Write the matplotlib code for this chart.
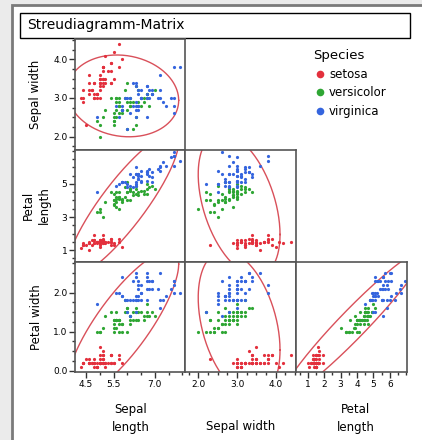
import numpy as np
import matplotlib
matplotlib.use("Agg")
import matplotlib.pyplot as plt
from matplotlib.patches import Rectangle
from matplotlib.ticker import MultipleLocator, FixedLocator, FixedFormatter

# ------------------------
# Iris data (Fisher)
# ------------------------
sepal_length = [
    5.1, 4.9, 4.7, 4.6, 5.0, 5.4, 4.6, 5.0, 4.4, 4.9, 5.4, 4.8, 4.8, 4.3, 5.8, 5.7, 5.4, 5.1, 5.7, 5.1,
    5.4, 5.1, 4.6, 5.1, 4.8, 5.0, 5.0, 5.2, 5.2, 4.7, 4.8, 5.4, 5.2, 5.5, 4.9, 5.0, 5.5, 4.9, 4.4, 5.1,
    5.0, 4.5, 4.4, 5.0, 5.1, 4.8, 5.1, 4.6, 5.3, 5.0,
    7.0, 6.4, 6.9, 5.5, 6.5, 5.7, 6.3, 4.9, 6.6, 5.2, 5.0, 5.9, 6.0, 6.1, 5.6, 6.7, 5.6, 5.8, 6.2, 5.6,
    5.9, 6.1, 6.3, 6.1, 6.4, 6.6, 6.8, 6.7, 6.0, 5.7, 5.5, 5.5, 5.8, 6.0, 5.4, 6.0, 6.7, 6.3, 5.6, 5.5,
    5.5, 6.1, 5.8, 5.0, 5.6, 5.7, 5.7, 6.2, 5.1, 5.7,
    6.3, 5.8, 7.1, 6.3, 6.5, 7.6, 4.9, 7.3, 6.7, 7.2, 6.5, 6.4, 6.8, 5.7, 5.8, 6.4, 6.5, 7.7, 7.7, 6.0,
    6.9, 5.6, 7.7, 6.3, 6.7, 7.2, 6.2, 6.1, 6.4, 7.2, 7.4, 7.9, 6.4, 6.3, 6.1, 7.7, 6.3, 6.4, 6.0, 6.9,
    6.7, 6.9, 5.8, 6.8, 6.7, 6.7, 6.3, 6.5, 6.2, 5.9,
]
sepal_width = [
    3.5, 3.0, 3.2, 3.1, 3.6, 3.9, 3.4, 3.4, 2.9, 3.1, 3.7, 3.4, 3.0, 3.0, 4.0, 4.4, 3.9, 3.5, 3.8, 3.8,
    3.4, 3.7, 3.6, 3.3, 3.4, 3.0, 3.4, 3.5, 3.4, 3.2, 3.1, 3.4, 4.1, 4.2, 3.1, 3.2, 3.5, 3.1, 3.0, 3.4,
    3.5, 2.3, 3.2, 3.5, 3.8, 3.0, 3.8, 3.2, 3.7, 3.3,
    3.2, 3.2, 3.1, 2.3, 2.8, 2.8, 3.3, 2.4, 2.9, 2.7, 2.0, 3.0, 2.2, 2.9, 2.9, 3.1, 3.0, 2.7, 2.2, 2.5,
    3.2, 2.8, 2.5, 2.8, 2.9, 3.0, 2.8, 3.0, 2.9, 2.6, 2.4, 2.4, 2.7, 2.7, 3.0, 3.4, 3.1, 2.3, 3.0, 2.5,
    2.6, 3.0, 2.6, 2.3, 2.7, 3.0, 2.9, 2.9, 2.5, 2.8,
    3.3, 2.7, 3.0, 2.9, 3.0, 3.0, 2.5, 2.9, 2.5, 3.6, 3.2, 2.7, 3.0, 2.5, 2.8, 3.2, 3.0, 3.8, 2.6, 2.2,
    3.2, 2.8, 2.8, 2.7, 3.3, 3.2, 2.8, 3.0, 2.8, 3.0, 2.8, 3.8, 2.8, 2.8, 2.6, 3.0, 3.4, 3.1, 3.0, 3.1,
    3.1, 3.1, 2.7, 3.2, 3.3, 3.0, 2.5, 3.0, 3.4, 3.0,
]
petal_length = [
    1.4, 1.4, 1.3, 1.5, 1.4, 1.7, 1.4, 1.5, 1.4, 1.5, 1.5, 1.6, 1.4, 1.1, 1.2, 1.5, 1.3, 1.4, 1.7, 1.5,
    1.7, 1.5, 1.0, 1.7, 1.9, 1.6, 1.6, 1.5, 1.4, 1.6, 1.6, 1.5, 1.5, 1.4, 1.5, 1.2, 1.3, 1.5, 1.3, 1.5,
    1.3, 1.3, 1.3, 1.6, 1.9, 1.4, 1.6, 1.4, 1.5, 1.4,
    4.7, 4.5, 4.9, 4.0, 4.6, 4.5, 4.7, 3.3, 4.6, 3.9, 3.5, 4.2, 4.0, 4.7, 3.6, 4.4, 4.5, 4.1, 4.5, 3.9,
    4.8, 4.0, 4.9, 4.7, 4.3, 4.4, 4.8, 5.0, 4.5, 3.5, 3.8, 3.7, 3.9, 5.1, 4.5, 4.5, 4.7, 4.4, 4.1, 4.0,
    4.4, 4.6, 4.0, 3.3, 4.2, 4.2, 4.2, 4.3, 3.0, 4.1,
    6.0, 5.1, 5.9, 5.6, 5.8, 6.6, 4.5, 6.3, 5.8, 6.1, 5.1, 5.3, 5.5, 5.0, 5.1, 5.3, 5.5, 6.7, 6.9, 5.0,
    5.7, 4.9, 6.7, 4.9, 5.7, 6.0, 4.8, 4.9, 5.6, 5.8, 6.1, 6.4, 5.6, 5.1, 5.6, 6.1, 5.6, 5.5, 4.8, 5.4,
    5.6, 5.1, 5.1, 5.9, 5.7, 5.2, 5.0, 5.2, 5.4, 5.1,
]
petal_width = [
    0.2, 0.2, 0.2, 0.2, 0.2, 0.4, 0.3, 0.2, 0.2, 0.1, 0.2, 0.2, 0.1, 0.1, 0.2, 0.4, 0.4, 0.3, 0.3, 0.3,
    0.2, 0.4, 0.2, 0.5, 0.2, 0.2, 0.4, 0.2, 0.2, 0.2, 0.2, 0.4, 0.1, 0.2, 0.1, 0.2, 0.2, 0.1, 0.2, 0.2,
    0.3, 0.3, 0.2, 0.6, 0.4, 0.3, 0.2, 0.2, 0.2, 0.2,
    1.4, 1.5, 1.5, 1.3, 1.5, 1.3, 1.6, 1.0, 1.3, 1.4, 1.0, 1.5, 1.0, 1.4, 1.3, 1.4, 1.5, 1.0, 1.5, 1.1,
    1.8, 1.3, 1.5, 1.2, 1.3, 1.4, 1.4, 1.7, 1.5, 1.0, 1.1, 1.0, 1.2, 1.6, 1.5, 1.6, 1.5, 1.3, 1.3, 1.3,
    1.2, 1.4, 1.2, 1.0, 1.3, 1.2, 1.3, 1.3, 1.1, 1.3,
    2.5, 1.9, 2.1, 1.8, 2.2, 2.1, 1.7, 1.8, 1.8, 2.5, 2.0, 1.9, 2.1, 2.0, 2.4, 2.3, 1.8, 2.2, 2.3, 1.5,
    2.3, 2.0, 2.0, 1.8, 2.1, 1.8, 1.8, 1.8, 2.1, 1.6, 1.9, 2.0, 2.2, 1.5, 1.4, 2.3, 2.4, 1.8, 1.8, 2.1,
    2.4, 2.3, 1.9, 2.3, 2.5, 2.3, 1.9, 2.0, 2.3, 1.8,
]
species_names = ["setosa", "versicolor", "virginica"]
species_counts = [50, 50, 50]
species_colors = ["#e3303d", "#2fa634", "#3565de"]

# axis setup per variable
var_limits = [(4.1, 8.1), (1.65, 4.53), (0.28, 7.05), (-0.03, 2.78)]
var_ticks = [[4.5, 5.5, 7.0], [2.0, 3.0, 4.0], [1, 3, 5], [0.0, 1.0, 2.0]]
var_ticklabels = [["4.5", "5.5", "7.0"], ["2.0", "3.0", "4.0"], ["1", "3", "5"], ["0.0", "1.0", "2.0"]]
col_ticks = [[4.5, 5.5, 7.0], [2.0, 3.0, 4.0], [1, 2, 3, 4, 5, 6]]
col_ticklabels = [["4.5", "5.5", "7.0"], ["2.0", "3.0", "4.0"], ["1", "2", "3", "4", "5", "6"]]
var_minor = [0.5, 0.25, 0.5, 0.25]

data = np.array([sepal_length, sepal_width, petal_length, petal_width])
species_idx = np.repeat(np.arange(3), species_counts)

W, H = 422, 440


def fx(px):
    return px / W


def fy(py):
    return 1 - py / H


def ellipse_points(x, y, level=5.991):
    # 95% density ellipse from the mean and covariance of all points
    mean = np.array([x.mean(), y.mean()])
    cov = np.cov(x, y)
    L = np.linalg.cholesky(cov)
    t = np.linspace(0, 2 * np.pi, 300)
    circ = np.vstack([np.cos(t), np.sin(t)]) * np.sqrt(level)
    pts = L @ circ + mean[:, None]
    return pts[0], pts[1]


fig = plt.figure(figsize=(W / 100, H / 100), dpi=100)
fig.patch.set_facecolor("#ebebeb")

# white outer panel
fig.patches.append(Rectangle((fx(12), -0.01), 1 - fx(12) + 0.01, fy(5) + 0.01, transform=fig.transFigure,
                             facecolor="white", edgecolor="#7a7a7a", lw=2.0, zorder=-10))
# title box
fig.patches.append(Rectangle((fx(20), fy(38)), fx(410) - fx(20), fy(13) - fy(38),
                             transform=fig.transFigure, facecolor="white", edgecolor="black",
                             lw=1.0, zorder=-5))
fig.text(fx(27), fy(25.5), "Streudiagramm-Matrix", fontsize=10, va="center", ha="left")

col_edges = [75, 185, 296, 407]
row_edges = [39, 150, 262, 372]

# row r -> y variable r+1, col c -> x variable c
for r in range(3):
    for c in range(r + 1):
        x0, x1 = col_edges[c], col_edges[c + 1]
        y0, y1 = row_edges[r], row_edges[r + 1]
        ax = fig.add_axes([fx(x0), fy(y1), fx(x1) - fx(x0), fy(y0) - fy(y1)])
        xv, yv = c, r + 1
        xs, ys = data[xv], data[yv]

        ex, ey = ellipse_points(xs, ys)
        ax.plot(ex, ey, color="#d9505a", lw=1.0, zorder=1)
        for s in range(3):
            m = species_idx == s
            ax.plot(xs[m], ys[m], "o", ms=2.3, mew=0, color=species_colors[s], zorder=2)

        ax.set_xlim(var_limits[xv])
        ax.set_ylim(var_limits[yv])
        for sp in ax.spines.values():
            sp.set_color("#555555")
            sp.set_linewidth(1.2)

        ax.xaxis.set_major_locator(FixedLocator(col_ticks[c]))
        ax.xaxis.set_major_formatter(FixedFormatter(col_ticklabels[c]))
        ax.xaxis.set_minor_locator(MultipleLocator(var_minor[xv]))
        ax.yaxis.set_major_locator(FixedLocator(var_ticks[yv]))
        ax.yaxis.set_major_formatter(FixedFormatter(var_ticklabels[yv]))
        ax.yaxis.set_minor_locator(MultipleLocator(var_minor[yv]))

        ax.tick_params(which="both", direction="out", width=1, color="#333333",
                       labelsize=6.5, pad=1.5)
        ax.tick_params(which="major", length=4)
        ax.tick_params(which="minor", length=2.5)
        ax.tick_params(left=(c == 0), labelleft=(c == 0),
                       bottom=(r == 2), labelbottom=(r == 2))
        ax.tick_params(which="minor", left=(c == 0), bottom=(r == 2))

# axis titles
fig.text(fx(36), fy(94), "Sepal width", rotation=90, fontsize=8.5, ha="center", va="center")
fig.text(fx(36), fy(205), "Petal\nlength", rotation=90, fontsize=8.5, ha="center", va="center",
         linespacing=1.3)
fig.text(fx(36), fy(317), "Petal width", rotation=90, fontsize=8.5, ha="center", va="center")
fig.text(fx(131), fy(418), "Sepal\nlength", fontsize=8.5, ha="center", va="center", linespacing=1.5)
fig.text(fx(241), fy(426), "Sepal width", fontsize=8.5, ha="center", va="center")
fig.text(fx(356), fy(418), "Petal\nlength", fontsize=8.5, ha="center", va="center", linespacing=1.5)

# legend
fig.text(fx(313), fy(55), "Species", fontsize=9.5, ha="left", va="center")
for i, name in enumerate(species_names):
    yy = fy(74 + i * 18.5)
    fig.lines.append(plt.Line2D([fx(320)], [yy], marker="o", ms=5.5, mew=0,
                                color=species_colors[i], transform=fig.transFigure))
    fig.text(fx(329), yy, name, fontsize=8.5, ha="left", va="center")

fig.savefig("out.png", dpi=100)
